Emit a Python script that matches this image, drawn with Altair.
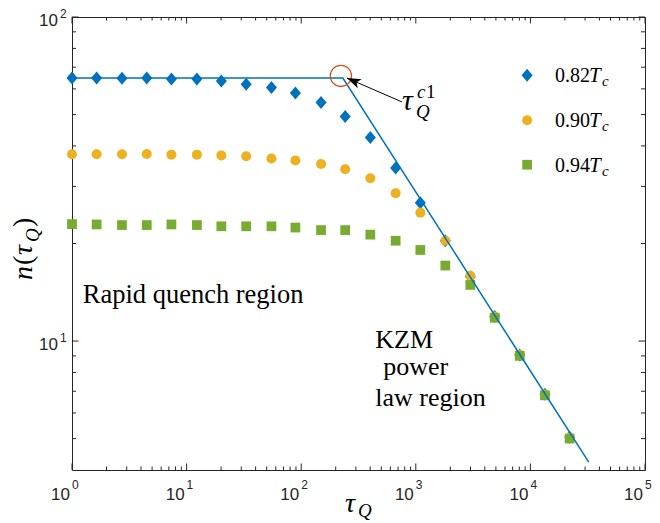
import altair as alt
import pandas as pd

# ---------------- data ----------------
tau = [1, 1.64, 2.73, 4.49, 7.37, 12.3, 20.1, 33.1, 55, 89, 149,
       242, 401, 667, 1095, 1810, 2990, 4880, 8070, 13400, 22000]
n_082 = [64.8, 64.8, 64.7, 64.8, 64.4, 64.4, 63.5, 62.0, 60.6, 58.3, 54.5,
         49.3, 42.5, 34.2, 26.7, 20.4, 15.8, 11.9, 9.05, 6.85, 5.05]
n_090 = [37.7, 37.7, 37.7, 37.8, 37.6, 37.6, 37.4, 37.2, 36.6, 36.1, 35.2,
         33.9, 31.8, 28.6, 24.9, 20.4, 15.9, 11.9, 9.08, 6.84, 5.04]
n_094 = [22.96, 22.9, 22.8, 22.8, 22.9, 22.8, 22.6, 22.6, 22.6, 22.4, 22.0,
         22.0, 21.3, 20.4, 19.1, 17.1, 14.9, 11.8, 9.0, 6.8, 5.0]

fit_tau = [1, 231, 32300]
fit_n = [64.8, 64.8, 4.23]

crit_tau = [222]
crit_n = [65.8]
arrow_tail_tau, arrow_tail_n = 757, 54.7
arrow_tip_tau, arrow_tip_n = 250.6, 64.8

legend_labels = ["0.82", "0.90", "0.94"]
legend_tau = 9360
legend_n = [66.1, 48.0, 35.0]

x_major = [1, 10, 100, 1000, 10000, 100000]
x_minor = [k * 10 ** d for d in range(5) for k in range(2, 10)]
y_major = [10, 100]
y_minor = [5, 6, 7, 8, 9, 20, 30, 40, 50, 60, 70, 80, 90]
x_exp = ["0", "1", "2", "3", "4", "5"]
y_exp = ["1", "2"]

# ---------------- style ----------------
W, H = 573, 453
BLUE, YEL, GRN, RED = "#0072BD", "#EDB120", "#77AC30", "#D95319"
AX = "#262626"
SERIF = "Liberation Serif"
SANS = "Liberation Sans"
DIAMOND = "M0,-1L0.85,0L0,1L-0.85,0Z"
ARROW = "M0,0L-2,-0.7L-1.5,0L-2,0.7Z"

xs = alt.Scale(type="log", domain=[1, 100000], nice=False)
ys = alt.Scale(type="log", domain=[4, 100], nice=False)


def X(f="x"):
    return alt.X(f"{f}:Q", scale=xs, axis=None)


def Y(f="y"):
    return alt.Y(f"{f}:Q", scale=ys, axis=None)


def series(n, shape, size, color):
    df = pd.DataFrame({"x": tau, "y": n})
    return alt.Chart(df).mark_point(shape=shape, size=size, filled=True,
                                    color=color, opacity=1, strokeWidth=0).encode(x=X(), y=Y())


layers = [
    series(n_082, DIAMOND, 169, BLUE),
    series(n_090, "circle", 100, YEL),
    series(n_094, "square", 95, GRN),
]

fit_df = pd.DataFrame({"x": fit_tau, "y": fit_n})
layers.append(alt.Chart(fit_df).mark_line(color=BLUE, strokeWidth=1.5).encode(x=X(), y=Y()))

crit_df = pd.DataFrame({"x": crit_tau, "y": crit_n})
layers.append(alt.Chart(crit_df).mark_point(shape="circle", size=450, filled=False,
                                            color=RED, strokeWidth=1.3, opacity=1).encode(x=X(), y=Y()))

arr_df = pd.DataFrame({"x": [arrow_tail_tau], "y": [arrow_tail_n],
                       "x2": [arrow_tip_tau], "y2": [arrow_tip_n]})
layers.append(alt.Chart(arr_df).mark_rule(color="black", strokeWidth=1).encode(
    x=X(), y=Y(), x2="x2:Q", y2="y2:Q"))
tip_df = pd.DataFrame({"x": [arrow_tip_tau], "y": [arrow_tip_n]})
layers.append(alt.Chart(tip_df).mark_point(shape=ARROW, size=196, filled=True, color="black",
                                           opacity=1, strokeWidth=0, angle=203.6).encode(x=X(), y=Y()))

# legend
for lab, ny, shape, size, color in zip(legend_labels, legend_n,
                                       [DIAMOND, "circle", "square"], [169, 100, 95], [BLUE, YEL, GRN]):
    ldf = pd.DataFrame({"x": [legend_tau], "y": [ny]})
    layers.append(alt.Chart(ldf).mark_point(shape=shape, size=size, filled=True, color=color,
                                            opacity=1, strokeWidth=0).encode(x=X(), y=Y()))
    layers.append(alt.Chart(ldf).mark_text(text=lab, font=SERIF, fontSize=20, align="left",
                                           baseline="alphabetic", dx=28, dy=7, color="black").encode(x=X(), y=Y()))
    layers.append(alt.Chart(ldf).mark_text(text="T", font=SERIF, fontSize=21, fontStyle="italic",
                                           align="left", baseline="alphabetic", dx=62, dy=7,
                                           color="black").encode(x=X(), y=Y()))
    layers.append(alt.Chart(ldf).mark_text(text="c", font=SERIF, fontSize=15, fontStyle="italic",
                                           align="left", baseline="alphabetic", dx=75, dy=11,
                                           color="black").encode(x=X(), y=Y()))


def note(x, y, text, size=26, style="normal", dx=0, dy=0):
    d = pd.DataFrame({"x": [x], "y": [y]})
    return alt.Chart(d).mark_text(text=text, font=SERIF, fontSize=size, fontStyle=style,
                                  align="left", baseline="alphabetic", dx=dx, dy=dy,
                                  color="black").encode(x=X(), y=Y())


layers += [
    note(1.24, 13.1, "Rapid quench region", 26.5),
    note(443, 9.54, "KZM"),
    note(520, 7.83, "power"),
    note(443, 6.30, "law region"),
    note(757, 51.5, "τ", 30, "italic"),
    note(757, 51.5, "c", 19, "italic", dx=15, dy=-12),
    note(757, 51.5, "1", 19, "normal", dx=24, dy=-12),
    note(757, 51.5, "Q", 19, "italic", dx=14, dy=8),
]

# inward ticks
def xticks(vals, ln):
    d = pd.DataFrame({"x": vals})
    b = alt.Chart(d).mark_rule(color=AX, strokeWidth=1).encode(x=X(), y=alt.value(H), y2=alt.value(H - ln))
    t = alt.Chart(d).mark_rule(color=AX, strokeWidth=1).encode(x=X(), y=alt.value(0), y2=alt.value(ln))
    return [b, t]


def yticks(vals, ln):
    d = pd.DataFrame({"y": vals})
    l = alt.Chart(d).mark_rule(color=AX, strokeWidth=1).encode(y=Y(), x=alt.value(0), x2=alt.value(ln))
    r = alt.Chart(d).mark_rule(color=AX, strokeWidth=1).encode(y=Y(), x=alt.value(W), x2=alt.value(W - ln))
    return [l, r]


layers += xticks(x_major, 6.5) + xticks(x_minor, 3.5) + yticks(y_major, 6.5) + yticks(y_minor, 4)

# tick labels
xl = pd.DataFrame({"x": x_major, "e": x_exp})
layers.append(alt.Chart(xl).mark_text(text="10", font=SANS, fontSize=17, align="right", baseline="alphabetic",
                                      dx=-2, color=AX).encode(x=X(), y=alt.value(H + 30)))
layers.append(alt.Chart(xl).mark_text(font=SANS, fontSize=12, align="left", baseline="alphabetic",
                                      dx=0, color=AX).encode(x=X(), y=alt.value(H + 19), text="e:N"))
yl = pd.DataFrame({"y": y_major, "e": y_exp})
layers.append(alt.Chart(yl).mark_text(text="10", font=SANS, fontSize=17, align="right", baseline="middle",
                                      dy=4, color=AX).encode(y=Y(), x=alt.value(-14)))
layers.append(alt.Chart(yl).mark_text(font=SANS, fontSize=12, align="left", baseline="middle",
                                      dy=-3, color=AX).encode(y=Y(), x=alt.value(-12), text="e:N"))

# axis titles
one = pd.DataFrame({"k": [0]})


def ptext(x, y, text, size, style="normal", angle=0, dx=0, dy=0):
    kw = dict(text=text, font=SERIF, fontSize=size, fontStyle=style, align="left",
              baseline="alphabetic", dx=dx, dy=dy, color="black")
    if angle:
        kw["angle"] = angle
    return alt.Chart(one).mark_text(**kw).encode(x=alt.value(x), y=alt.value(y))


layers += [
    ptext(273, 495, "τ", 28, "italic"),
    ptext(273, 495, "Q", 19, "italic", dx=13, dy=5),
    ptext(-40, 263, "n", 28, "italic", 270),
    ptext(-40, 263, "(", 28, "normal", 270, dx=15),
    ptext(-40, 263, "τ", 28, "italic", 270, dx=25),
    ptext(-40, 263, "Q", 19, "italic", 270, dx=38, dy=7),
    ptext(-40, 263, ")", 28, "normal", 270, dx=53),
]

chart = alt.layer(*layers).properties(
    width=W, height=H,
    autosize=alt.AutoSizeParams(type="none"),
    padding={"left": 64, "top": 9, "right": 7, "bottom": 53},
).configure_view(stroke=AX, strokeWidth=1)

chart.save("out.html", embed_options={"renderer": "svg", "actions": False})
